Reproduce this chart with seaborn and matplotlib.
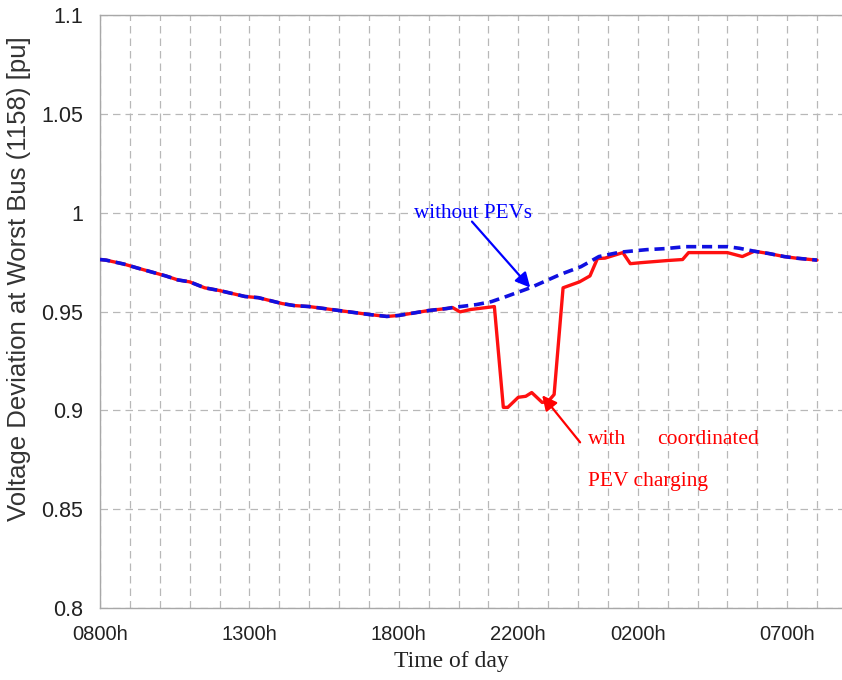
import matplotlib
matplotlib.use("Agg")
import matplotlib.pyplot as plt
from matplotlib.ticker import MultipleLocator, FixedLocator
import seaborn as sns
import pandas as pd

# Hours elapsed since 08:00
blue_hours = [0, 0.2, 0.8, 1.25, 2.2, 2.6, 3.0, 3.5, 4.0, 4.85, 5.3, 6.1, 6.5,
              7.0, 8.0, 9.0, 9.6, 10.0, 10.6, 11.0, 11.6, 11.8, 12.6, 13.1,
              13.6, 14.4, 15.4, 16.1, 16.7, 17.4, 18.3, 18.9, 19.6, 21.0,
              21.4, 21.9, 22.4, 22.9, 23.3, 24.0]
without_pev = [0.9763, 0.976, 0.974, 0.972, 0.968, 0.966, 0.965, 0.962, 0.9606,
               0.9576, 0.957, 0.954, 0.953, 0.9525, 0.9505, 0.9485, 0.9475,
               0.948, 0.9495, 0.9505, 0.9515, 0.952, 0.9535, 0.955, 0.9576,
               0.962, 0.9687, 0.9727, 0.9778, 0.980, 0.9813, 0.9818, 0.9828,
               0.9828, 0.982, 0.9805, 0.9793, 0.9778, 0.977, 0.976]

red_hours = [0, 0.2, 0.8, 1.25, 2.2, 2.6, 3.0, 3.5, 4.0, 4.85, 5.3, 6.1, 6.5,
             7.0, 8.0, 9.0, 9.6, 10.0, 10.6, 11.0, 11.6, 11.8, 12.05, 12.4,
             13.2, 13.5, 13.65, 14.0, 14.25, 14.45, 14.8, 15.0, 15.2, 15.5,
             16.05, 16.4, 16.65, 16.9, 17.5, 17.75, 18.1, 19.0, 19.5, 19.7,
             21.0, 21.5, 21.9, 22.4, 22.9, 23.3, 24.0]
with_coordinated = [0.9763, 0.976, 0.974, 0.972, 0.968, 0.966, 0.965, 0.962,
                    0.9606, 0.9576, 0.957, 0.954, 0.953, 0.9525, 0.9505,
                    0.9485, 0.9475, 0.948, 0.9495, 0.9505, 0.9515, 0.952,
                    0.9498, 0.951, 0.9525, 0.9015, 0.9015, 0.9066, 0.9071,
                    0.909, 0.904, 0.9045, 0.908, 0.962, 0.965, 0.968, 0.9768,
                    0.977, 0.9798, 0.9742, 0.9747, 0.9758, 0.9763, 0.9798,
                    0.9798, 0.9778, 0.9805, 0.9793, 0.9778, 0.977, 0.976]

tick_hours = [0, 5, 10, 14, 18, 23]
tick_labels = ["0800h", "1300h", "1800h", "2200h", "0200h", "0700h"]
y_ticks = [0.8, 0.85, 0.9, 0.95, 1.0, 1.05, 1.1]
y_labels = ["0.8", "0.85", "0.9", "0.95", "1", "1.05", "1.1"]

df_blue = pd.DataFrame({"hour": blue_hours, "v": without_pev})
df_red = pd.DataFrame({"hour": red_hours, "v": with_coordinated})

sns.set_style("white")
plt.rcParams["font.family"] = ["Liberation Sans", "DejaVu Sans"]

fig = plt.figure(figsize=(8.42, 6.8), dpi=100)
ax = fig.add_axes([0.1188, 0.1059, 0.887, 0.872])

grid_kw = dict(color="#b8b8b8", linestyle=(0, (6, 4)), linewidth=0.9)

sns.lineplot(data=df_red, x="hour", y="v", ax=ax, color="#ff1010",
             linewidth=2.4, estimator=None, sort=False, zorder=3)
sns.lineplot(data=df_blue, x="hour", y="v", ax=ax, color="#1010e0",
             linewidth=2.6, linestyle=(0, (2.8, 1.6)), estimator=None,
             sort=False, zorder=4)

ax.set_xlim(0, 25)
ax.set_ylim(0.8, 1.1)
ax.xaxis.set_major_locator(FixedLocator(tick_hours))
ax.set_xticklabels(tick_labels)
ax.xaxis.set_minor_locator(MultipleLocator(1))
ax.set_yticks(y_ticks)
ax.set_yticklabels(y_labels)

ax.grid(True, which="both", axis="x", **grid_kw)
ax.grid(True, which="major", axis="y", **grid_kw)

for s in ax.spines.values():
    s.set_color("#a8a8a8")
    s.set_linewidth(1.0)

ax.tick_params(axis="both", which="major", direction="in", length=5,
               color="#888888", labelcolor="#222222")
ax.tick_params(axis="x", which="major", labelsize=14.5, pad=12)
ax.tick_params(axis="y", which="major", labelsize=15.5, pad=12)
ax.tick_params(axis="both", which="minor", length=0)

serif = ["Liberation Serif", "DejaVu Serif"]
ax.set_xlabel("Time of day", family=serif, fontsize=17, color="#222222")
ax.xaxis.set_label_coords(0.471, -0.073)
ax.set_ylabel("Voltage Deviation at Worst Bus (1158) [pu]", fontsize=18.5,
              color="#333333")
ax.yaxis.set_label_coords(-0.092, 0.555)

ax.text(10.5, 0.9995, "without PEVs", family=serif, fontsize=15.2,
        color="#0000ff", ha="left", va="center")
ax.annotate("", xy=(14.4, 0.9621), xytext=(12.45, 0.9955),
            arrowprops=dict(arrowstyle="-|>", color="#0000ff", lw=1.6,
                            mutation_scale=22, shrinkA=0, shrinkB=0))
ax.annotate("", xy=(14.8, 0.9076), xytext=(16.07, 0.8838),
            arrowprops=dict(arrowstyle="-|>", color="#ff0000", lw=1.6,
                            mutation_scale=22, shrinkA=0, shrinkB=0))
ax.text(16.35, 0.885, "with", family=serif, fontsize=15.5, color="#ff0000",
        va="center", ha="left")
ax.text(18.65, 0.885, "coordinated", family=serif, fontsize=15.5,
        color="#ff0000", va="center", ha="left")
ax.text(16.35, 0.864, "PEV charging", family=serif, fontsize=15.5,
        color="#ff0000", va="center", ha="left")

fig.savefig("out.png", dpi=100)
